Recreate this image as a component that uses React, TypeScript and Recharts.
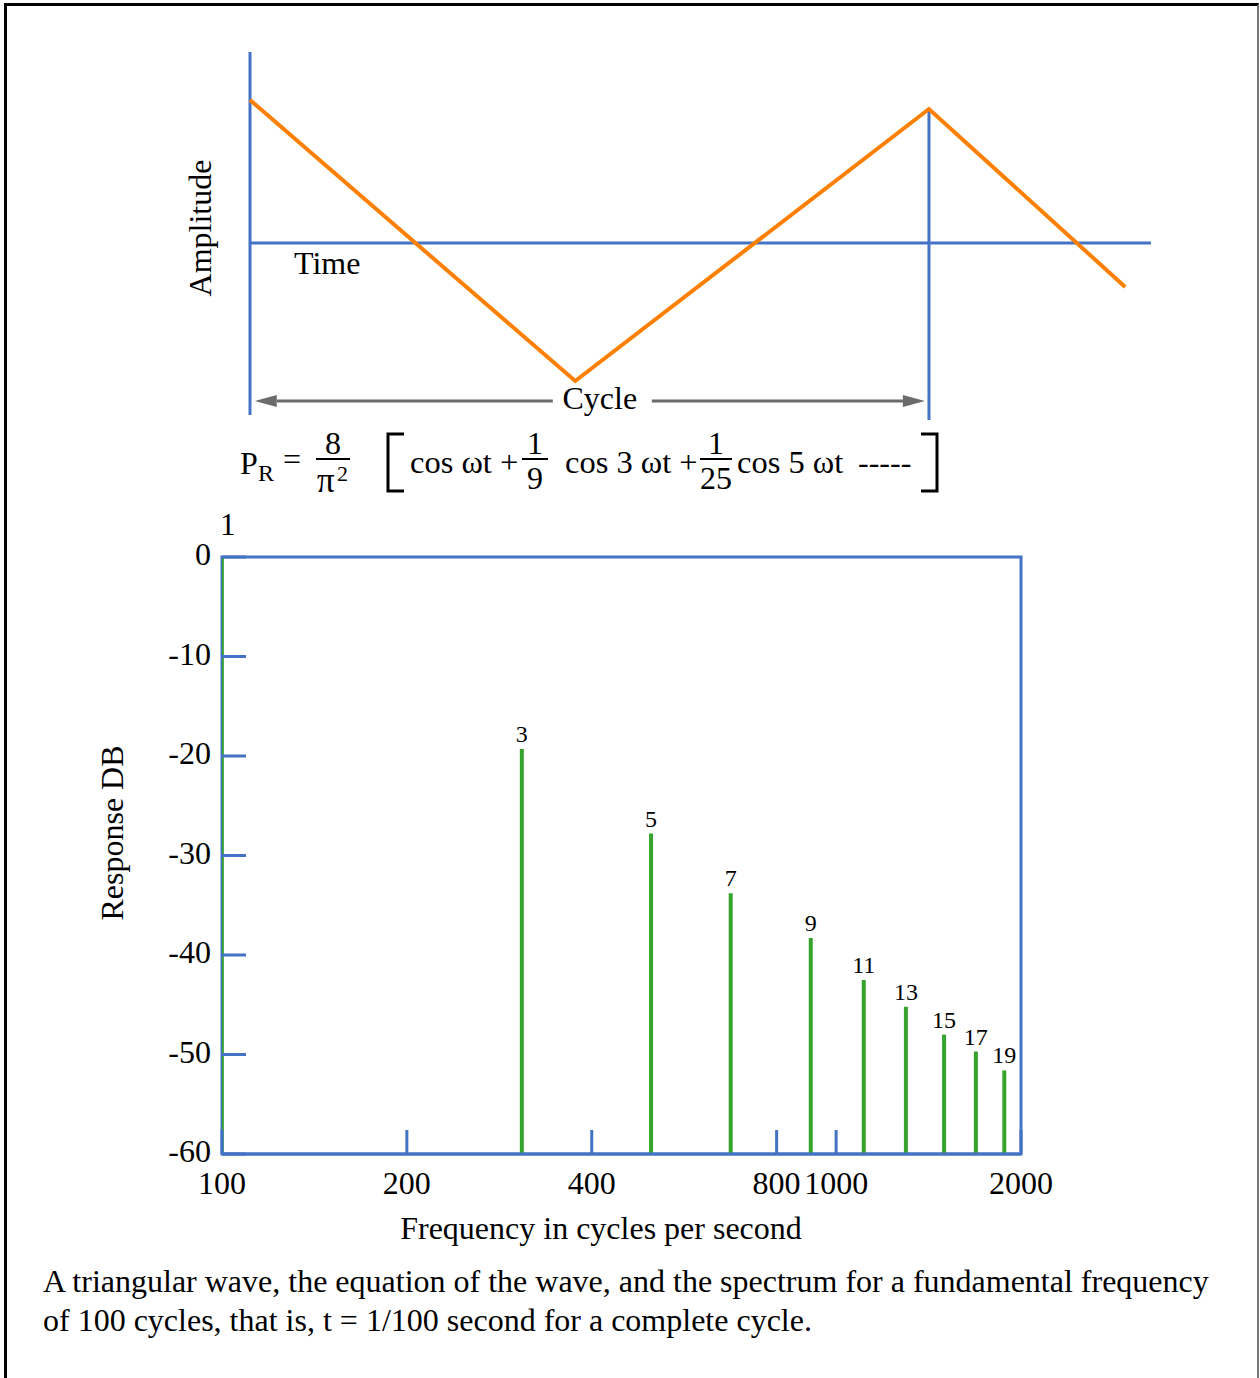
import {
  Bar,
  ComposedChart,
  LabelList,
  Line,
  LineChart,
  ReferenceArea,
  ReferenceLine,
  XAxis,
  YAxis,
} from 'recharts';

const FONT = '"Liberation Serif", "Times New Roman", serif';
const BLUE = '#4472c4';
const ORANGE = '#ff8000';
const GREEN = '#36a42c';
const GREY = '#6b6b6b';

// top panel: one cycle of the triangle wave (time in cycles, amplitude in arbitrary units)
const waveTime = [0, 0.479, 1.0, 1.289];
const waveAmplitude = [1.021, -0.986, 0.957, -0.314];
const cycleArrowY = -1.129;

// bottom panel: spectrum
const harmonics = [1, 3, 5, 7, 9, 11, 13, 15, 17, 19];
const frequencies = [100, 308, 500, 674, 910, 1110, 1300, 1500, 1690, 1880];
const responseDb = [0, -19.3, -27.8, -33.8, -38.3, -42.5, -45.2, -48.0, -49.7, -51.6];
const freqTicks = [100, 200, 400, 800, 1000, 2000];
const dbTicks = [0, -10, -20, -30, -40, -50, -60];

const waveData = waveTime.map((t, i) => ({ t, amp: waveAmplitude[i] }));
const spectrumData = harmonics.map((h, i) => ({
  harmonic: h,
  freq: frequencies[i],
  range: [-60, responseDb[i]],
}));

const CycleArrow = (props: any) => {
  const { x1, y1, x2 } = props;
  const mid = (x1 + x2) / 2;
  const head = 22;
  return (
    <g>
      <line x1={x1 + head} y1={y1} x2={mid - 37} y2={y1} stroke={GREY} strokeWidth={3} />
      <line x1={mid + 62} y1={y1} x2={x2 - head} y2={y1} stroke={GREY} strokeWidth={3} />
      <polygon points={`${x1},${y1} ${x1 + head},${y1 - 6} ${x1 + head},${y1 + 6}`} fill={GREY} />
      <polygon points={`${x2},${y1} ${x2 - head},${y1 - 6} ${x2 - head},${y1 + 6}`} fill={GREY} />
      <text x={mid + 10} y={y1 + 8} textAnchor="middle" fontSize={32} fontFamily={FONT} fill="#000">
        Cycle
      </text>
    </g>
  );
};

const HarmonicLabel = (props: any) => {
  const { x, y, width, value } = props;
  const first = value === 1;
  return (
    <text
      x={x + width / 2 + (first ? 6 : 0)}
      y={y - (first ? 22 : 7)}
      textAnchor="middle"
      fontSize={first ? 31 : 24}
      fontFamily={FONT}
      fill="#000"
    >
      {value}
    </text>
  );
};

const Equation = () => (
  <svg width={1260} height={520} style={{ position: 'absolute', left: 0, top: 0 }}>
    <g fontFamily={FONT} fill="#000">
      <text x={240} y={474} fontSize={32}>P</text>
      <text x={258} y={481} fontSize={24}>R</text>
      <text x={283} y={470} fontSize={32}>=</text>
      <text x={333} y={454} fontSize={32} textAnchor="middle">8</text>
      <line x1={316} y1={459} x2={350} y2={459} stroke="#000" strokeWidth={2} />
      <text x={317} y={492} fontSize={35}>π</text>
      <text x={337} y={481} fontSize={22}>2</text>
      <path d="M404,434 H388 V491 H404" fill="none" stroke="#000" strokeWidth={3} />
      <text x={410} y={473} fontSize={32.5}>cos ωt +</text>
      <text x={535} y={454} fontSize={32} textAnchor="middle">1</text>
      <line x1={522} y1={459} x2={548} y2={459} stroke="#000" strokeWidth={2} />
      <text x={535} y={489} fontSize={32} textAnchor="middle">9</text>
      <text x={565} y={473} fontSize={32.5}>cos 3 ωt +</text>
      <text x={716} y={454} fontSize={32} textAnchor="middle">1</text>
      <line x1={700} y1={459} x2={732} y2={459} stroke="#000" strokeWidth={2} />
      <text x={716} y={489} fontSize={32} textAnchor="middle">25</text>
      <text x={737} y={473} fontSize={32.5}>cos 5 ωt</text>
      <text x={858} y={473} fontSize={32}>-----</text>
      <path d="M921,434 H937 V491 H921" fill="none" stroke="#000" strokeWidth={3} />
    </g>
  </svg>
);

export default function App() {
  return (
    <div
      style={{
        position: 'absolute',
        left: 0,
        top: 0,
        width: 1260,
        height: 1378,
        background: '#fff',
        fontFamily: FONT,
        overflow: 'hidden',
      }}
    >
      <div
        style={{
          position: 'absolute',
          left: 4,
          top: 3,
          width: 1250,
          height: 1400,
          borderLeft: '3px solid #000',
          borderTop: '3px solid #000',
          borderRight: '2px solid #777',
        }}
      />

      <div style={{ position: 'absolute', left: 0, top: 0 }}>
        <LineChart width={1260} height={440} data={waveData} margin={{ top: 52, right: 109, left: 250, bottom: 15 }}>
          <XAxis dataKey="t" type="number" domain={[0, 1.327]} hide />
          <YAxis type="number" domain={[-1.3, 1.364]} hide />
          <ReferenceLine segment={[{ x: 0, y: -1.229 }, { x: 0, y: 1.364 }]} stroke={BLUE} strokeWidth={3} />
          <ReferenceLine segment={[{ x: 0, y: 0 }, { x: 1.327, y: 0 }]} stroke={BLUE} strokeWidth={3} />
          <ReferenceLine segment={[{ x: 1, y: -1.264 }, { x: 1, y: 0.957 }]} stroke={BLUE} strokeWidth={3} />
          <ReferenceLine
            segment={[{ x: 0.007, y: cycleArrowY }, { x: 0.994, y: cycleArrowY }]}
            shape={CycleArrow}
          />
          <Line
            type="linear"
            dataKey="amp"
            stroke={ORANGE}
            strokeWidth={4}
            dot={false}
            isAnimationActive={false}
          />
        </LineChart>
      </div>

      <svg width={1260} height={440} style={{ position: 'absolute', left: 0, top: 0 }}>
        <text
          transform="translate(211,228) rotate(-90)"
          textAnchor="middle"
          fontSize={32}
          fontFamily={FONT}
          fill="#000"
        >
          Amplitude
        </text>
        <text x={294} y={274} fontSize={32} fontFamily={FONT} fill="#000">
          Time
        </text>
      </svg>

      <Equation />

      <div style={{ position: 'absolute', left: 0, top: 500 }}>
        <ComposedChart
          width={1260}
          height={760}
          data={spectrumData}
          margin={{ top: 57, right: 239, left: 162, bottom: 76 }}
        >
          <XAxis
            dataKey="freq"
            type="number"
            scale="log"
            domain={[100, 2000]}
            ticks={freqTicks}
            allowDataOverflow
            height={30}
            stroke={BLUE}
            strokeWidth={3}
            tickSize={-24}
            tickMargin={41}
            tick={{ fill: '#000', fontSize: 32, fontFamily: FONT }}
            interval={0}
          />
          <YAxis
            type="number"
            domain={[-60, 0]}
            ticks={dbTicks}
            width={60}
            axisLine={false}
            stroke={BLUE}
            strokeWidth={3}
            tickSize={-24}
            tickMargin={35}
            tick={{ fill: '#000', fontSize: 32, fontFamily: FONT, dy: -3 }}
            interval={0}
          />
          <ReferenceArea x1={100} x2={2000} y1={-60} y2={0} fill="none" stroke={BLUE} strokeWidth={3} />
          <Bar dataKey="range" fill={GREEN} barSize={4} isAnimationActive={false}>
            <LabelList dataKey="harmonic" content={HarmonicLabel} />
          </Bar>
        </ComposedChart>
      </div>

      <svg width={1260} height={878} style={{ position: 'absolute', left: 0, top: 500 }}>
        <text
          transform="translate(123,333) rotate(-90)"
          textAnchor="middle"
          fontSize={32}
          fontFamily={FONT}
          fill="#000"
        >
          Response DB
        </text>
        <text x={601} y={739} textAnchor="middle" fontSize={32} fontFamily={FONT} fill="#000">
          Frequency in cycles per second
        </text>
        <text x={43} y={792} fontSize={32} fontFamily={FONT} fill="#000">
          A triangular wave, the equation of the wave, and the spectrum for a fundamental frequency
        </text>
        <text x={43} y={831} fontSize={32} fontFamily={FONT} fill="#000">
          of 100 cycles, that is, t = 1/100 second for a complete cycle.
        </text>
      </svg>
    </div>
  );
}
